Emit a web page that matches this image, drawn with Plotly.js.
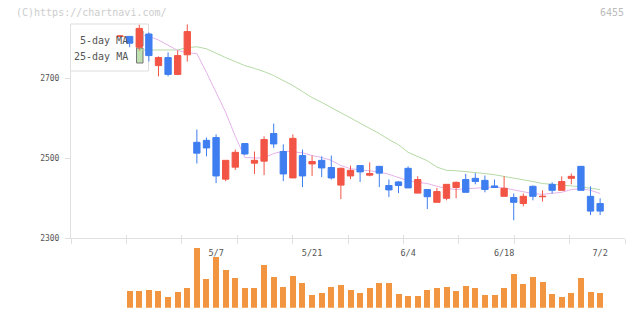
<!DOCTYPE html>
<html><head><meta charset="utf-8">
<script src="https://cdn.plot.ly/plotly-3.0.1.min.js"></script>
<style>html,body{margin:0;padding:0;background:#fff}#chart{width:640px;height:311px}</style>
</head><body><div id="chart"></div>
<script>
// ---- data ----
const dates = ['4/18','4/19','4/22','4/23','4/24','4/25','4/26','4/30','5/1','5/2',
  '5/7','5/8','5/9','5/10','5/13','5/14','5/15','5/16','5/17','5/20',
  '5/21','5/22','5/23','5/24','5/27','5/28','5/29','5/30','5/31','6/3',
  '6/4','6/5','6/6','6/7','6/10','6/11','6/12','6/13','6/14','6/17',
  '6/18','6/19','6/20','6/21','6/24','6/25','6/26','6/27','6/28','7/1','7/2'];
const open  = [2805,2805,2778,2811,2732,2752,2710,2759,2540,2545,
  2552,2448,2478,2537,2488,2493,2562,2517,2451,2507,
  2486,2495,2477,2433,2456,2482,2458,2480,2432,2441,
  2475,2413,2422,2390,2400,2427,2447,2450,2445,2431,
  2405,2402,2387,2430,2404,2435,2420,2450,2480,2405,2387];
const high  = [2808,2805,2834,2815,2755,2765,2770,2835,2572,2552,
  2560,2495,2522,2537,2517,2555,2587,2535,2560,2522,
  2507,2505,2507,2477,2482,2482,2490,2480,2447,2443,
  2480,2455,2422,2426,2435,2442,2461,2463,2457,2447,
  2455,2412,2412,2432,2420,2440,2455,2462,2480,2430,2400];
const low   = [2804,2778,2770,2742,2705,2705,2708,2742,2487,2505,
  2438,2443,2471,2508,2461,2458,2526,2443,2451,2428,
  2456,2453,2447,2398,2448,2441,2455,2428,2403,2413,
  2426,2413,2373,2390,2395,2400,2415,2435,2415,2427,
  2405,2345,2380,2395,2392,2412,2420,2435,2420,2358,2358];
const close = [2806,2788,2825,2757,2752,2710,2757,2817,2513,2526,
  2456,2495,2515,2511,2495,2547,2536,2461,2550,2456,
  2492,2476,2451,2475,2470,2466,2462,2463,2421,2432,
  2426,2447,2404,2417,2435,2440,2415,2442,2422,2427,
  2425,2390,2405,2405,2405,2420,2442,2455,2420,2368,2368];
const volume = [null,83,83,88,83,53,78,98,300,143,
  253,188,148,98,98,213,153,103,158,123,
  63,73,103,113,88,73,98,123,123,68,
  58,58,88,98,103,83,108,98,63,63,
  98,168,118,153,128,68,53,73,148,78,73];
const ma5 = [null,null,2810,2805,2796,2782,2770,2764,2762,2715,
  2665,2615,2555,2502,2501,2501,2512,2518,2516,2514,
  2507,2502,2495,2482,2474,2471,2469,2466,2460,2452,
  2444,2440,2437,2430,2425,2422,2424,2425,2427,2428,
  2426,2421,2416,2412,2410,2412,2415,2422,2424,2420,2412];
const ma25 = [null,null,2771,2771,2770,2770,2771,2777,2779,2774,
  2762,2752,2742,2732,2725,2717,2707,2695,2682,2667,
  2652,2640,2627,2615,2602,2590,2577,2562,2547,2534,
  2515,2505,2494,2478,2470,2469,2467,2464,2462,2459,
  2455,2451,2447,2442,2437,2435,2433,2432,2429,2425,2422];
const labelDates = ['5/7','5/21','6/4','6/18','7/2'];
const priceTicks = [2300,2500,2700];

// ---- layout helpers ----
const W = 640, H = 311;
const px = p => p / W;
const py = p => 1 - p / H;
const idx = dates.map((d, i) => i);
const xr = [-5.11, 52.59];
const gridTicks = Array.from({length: 11}, (_, k) => xr[0] + k * (xr[1] - xr[0]) / 10);
const RED = '#F25545', BLUE = '#3E7EF0', ORANGE = '#F29541';
const PINK = '#E6B2EA', GREEN = '#B5DAA5';
const MONO = 'DejaVu Sans Mono';

const traces = [
  {type:'scatter', mode:'lines', x: idx, y: ma25, xaxis:'x', yaxis:'y',
   line:{color:GREEN, width:1}, hoverinfo:'skip', connectgaps:false},
  {type:'scatter', mode:'lines', x: idx, y: ma5, xaxis:'x', yaxis:'y',
   line:{color:PINK, width:1}, hoverinfo:'skip', connectgaps:false},
  {type:'candlestick', x: idx, open: open, high: high, low: low, close: close,
   xaxis:'x', yaxis:'y3', whiskerwidth:0,
   increasing:{line:{color:RED, width:1}, fillcolor:RED},
   decreasing:{line:{color:BLUE, width:1}, fillcolor:BLUE},
   hoverinfo:'skip'},
  {type:'bar', x: idx, y: volume, xaxis:'x2', yaxis:'y2', width:0.625,
   marker:{color:ORANGE, line:{width:0}}, hoverinfo:'skip'},
  {type:'scatter', mode:'markers', x:[0], y:[2300], xaxis:'x3', yaxis:'y',
   marker:{opacity:0}, hoverinfo:'skip'},
  {type:'scatter', mode:'markers', x:[0], y:[2300], xaxis:'x4', yaxis:'y',
   marker:{opacity:0}, hoverinfo:'skip'}
];

const axisTickOnly = (dir, len) => ({
  overlaying:'x', anchor:'y', range: xr, tickmode:'array', tickvals: gridTicks,
  ticks: dir, ticklen: len, tickwidth:1, tickcolor:'#e0e0e0',
  showticklabels:false, showgrid:false, zeroline:false, showline:false, fixedrange:true
});

const layout = {
  width: W, height: H, margin:{l:0, r:0, t:0, b:0},
  paper_bgcolor:'#ffffff', plot_bgcolor:'rgba(0,0,0,0)',
  showlegend:false, boxgap:0.06, bargap:0,
  xaxis:{domain:[px(71), px(625)], range: xr, anchor:'y',
    tickmode:'array', tickvals: labelDates.map(d => dates.indexOf(d)), ticktext: labelDates,
    ticks:'', showline:true, linecolor:'#e0e0e0', linewidth:1,
    showgrid:false, zeroline:false, rangeslider:{visible:false},
    tickfont:{family:MONO, size:8.5, color:'#555'}, ticklabelstandoff:6, fixedrange:true},
  xaxis3: axisTickOnly('outside', 5),
  xaxis4: axisTickOnly('inside', 3),
  yaxis:{domain:[py(238.3), py(24)], range:[2300, 2836], anchor:'x',
    tickmode:'array', tickvals: priceTicks, ticks:'outside', ticklen:5, tickcolor:'#e0e0e0',
    showline:true, linecolor:'#e0e0e0', linewidth:1, showgrid:false, zeroline:false,
    tickfont:{family:MONO, size:8, color:'#555'}, ticklabelstandoff:4, fixedrange:true},
  yaxis3:{overlaying:'y', range:[2300, 2836], visible:false, fixedrange:true},
  xaxis2:{domain:[px(71), px(625)], range: xr, anchor:'y2', visible:false, fixedrange:true},
  yaxis2:{domain:[py(307.7), py(247.7)], range:[0, 300], anchor:'x2', visible:false, fixedrange:true},
  shapes:[
    {type:'rect', xref:'paper', yref:'paper', x0:px(70.5), x1:px(148.5), y0:py(71), y1:py(24),
     line:{color:'#dddddd', width:1}, fillcolor:'#ffffff', layer:'below'},
    {type:'rect', xref:'paper', yref:'paper', x0:px(136.5), x1:px(143), y0:py(46), y1:py(31),
     line:{color:'#777777', width:1}, fillcolor:PINK, layer:'below'},
    {type:'rect', xref:'paper', yref:'paper', x0:px(136.5), x1:px(143), y0:py(63), y1:py(48),
     line:{color:'#777777', width:1}, fillcolor:'#bfe0b0', layer:'below'}
  ],
  annotations:[
    {xref:'paper', yref:'paper', x:px(14), y:py(12.5), xanchor:'left', yanchor:'middle',
     text:'(C)https://chartnavi.com/', showarrow:false,
     font:{family:MONO, size:10, color:'#cccccc'}},
    {xref:'paper', yref:'paper', x:px(626), y:py(12.5), xanchor:'right', yanchor:'middle',
     text:'6455', showarrow:false, font:{family:MONO, size:10, color:'#bbbbbb'}},
    {xref:'paper', yref:'paper', x:px(130), y:py(40), xanchor:'right', yanchor:'middle',
     text:'5-day MA', showarrow:false, font:{family:MONO, size:10, color:'#555'}},
    {xref:'paper', yref:'paper', x:px(130), y:py(56.7), xanchor:'right', yanchor:'middle',
     text:'25-day MA', showarrow:false, font:{family:MONO, size:10, color:'#555'}}
  ]
};

Plotly.newPlot('chart', traces, layout, {staticPlot:true, displayModeBar:false});
</script>
</body></html>
